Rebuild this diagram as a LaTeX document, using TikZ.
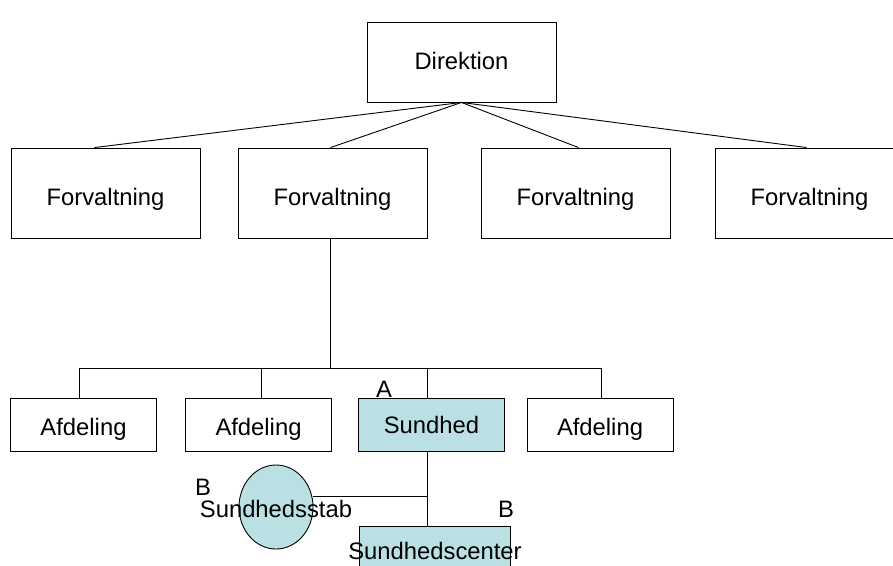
\documentclass[tikz,border=0pt]{standalone}
\usepackage{fontspec}
\setmainfont{Liberation Sans}
\usetikzlibrary{shapes.geometric}
\definecolor{paleteal}{RGB}{187,224,227}
\tikzset{
  unit/.style={draw=black, line width=0.9pt, rectangle, inner sep=0pt,
    font=\fontsize{23.8}{26}\selectfont, text depth=0pt, text height=17pt},
  topbox/.style={unit, minimum width=189pt, minimum height=80pt, text height=14pt},
  midbox/.style={unit, minimum width=189pt, minimum height=90pt, text height=24pt},
  deptbox/.style={unit, minimum width=146pt, minimum height=53pt, text height=20pt},
  focus/.style={fill=paleteal, text height=17pt},
  tag/.style={inner sep=0pt, font=\fontsize{23.8}{26}\selectfont},
  link/.style={draw=black, line width=0.9pt}
}
\begin{document}
\begin{tikzpicture}[x=1pt,y=-1pt]
  \useasboundingbox (0,0) rectangle (893,565);
  \clip (0,0) rectangle (893,565);

  % top level
  \node[topbox] (dir) at (461.5,62) {Direktion};

  % administrations
  \node[midbox] (f1) at (105.5,193) {Forvaltning};
  \node[midbox] (f2) at (332.5,193) {Forvaltning};
  \node[midbox] (f3) at (575.5,193) {Forvaltning};
  \node[midbox] (f4) at (809.5,193) {Forvaltning};

  \draw[link] (dir.south) -- ([xshift=-11pt]f1.north);
  \draw[link] (dir.south) -- ([xshift=-2pt]f2.north);
  \draw[link] (dir.south) -- ([xshift=3pt]f3.north);
  \draw[link] (dir.south) -- ([xshift=-3pt]f4.north);

  % departments
  \node[deptbox] (a1) at (83.5,425) {Afdeling};
  \node[deptbox] (a2) at (258.5,425) {Afdeling};
  \node[deptbox, focus] (s) at (431.5,425) {Sundhed};
  \node[deptbox] (a4) at (600,425) {Afdeling};

  \coordinate (bus) at (0,368);
  \draw[link] ([xshift=-2pt]f2.south) -- ([xshift=-2pt]f2.south |- bus);
  \draw[link] ([xshift=-4pt]a1.north) -- ([xshift=-4pt]a1.north |- bus)
    -- ([xshift=1pt]a4.north |- bus) -- ([xshift=1pt]a4.north);
  \draw[link] ([xshift=3pt]a2.north) -- ([xshift=3pt]a2.north |- bus);
  \draw[link] ([xshift=-4pt]s.north) -- ([xshift=-4pt]s.north |- bus);

  % health unit and its staff
  \node[unit, focus, minimum width=151pt, minimum height=80pt] (sc) at (434.5,566) {};
  \node[unit, focus, ellipse, minimum width=74pt, minimum height=84pt] (stab) at (276,507) {};

  \coordinate (j) at ([xshift=-4pt]s.south |- 0,496);
  \draw[link] ([xshift=-4pt]s.south) -- (j) -- ([xshift=-4pt]s.south |- sc.north);
  \draw[link] (j) -- (j -| stab.east);

  \node[tag] (stabtxt) at (276,509) {Sundhedsstab};
  \node[tag] (sctxt) at (435,551) {Sundhedscenter};

  \node[tag] (la) at (384,389) {A};
  \node[tag] (lb1) at (203,487) {B};
  \node[tag] (lb2) at (506,509) {B};
\end{tikzpicture}
\end{document}
